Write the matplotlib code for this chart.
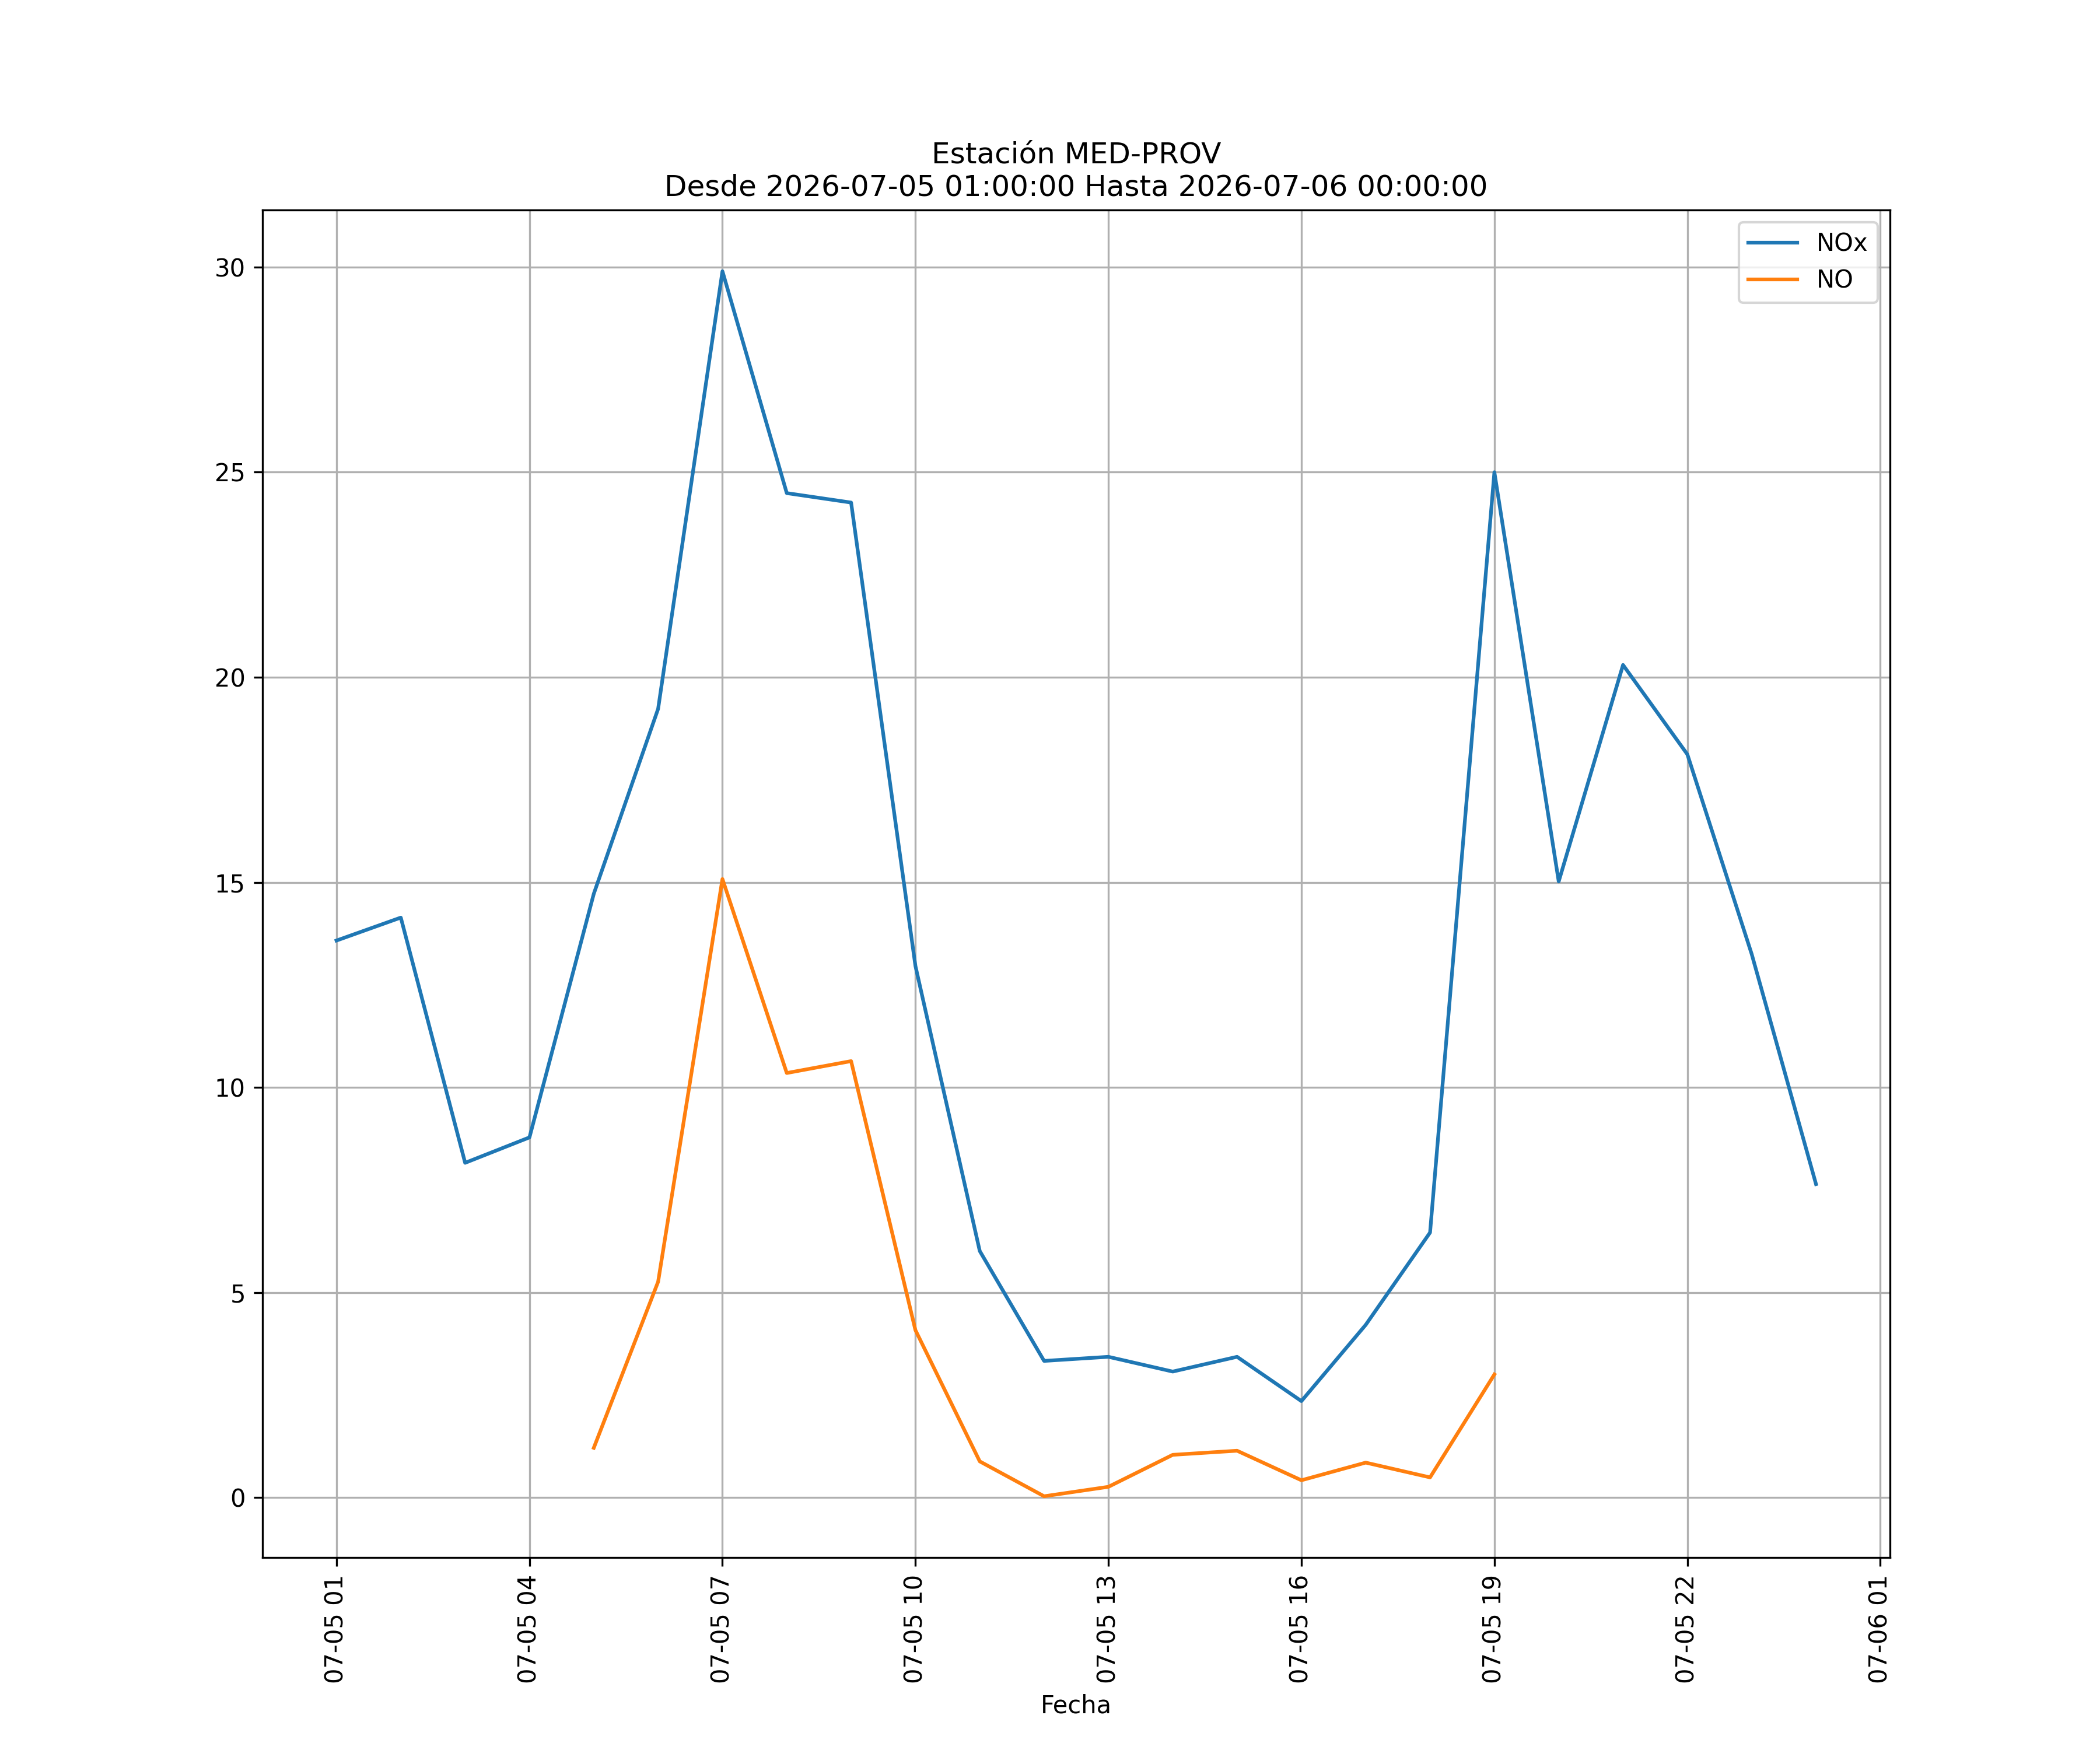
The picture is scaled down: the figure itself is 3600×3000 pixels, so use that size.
import numpy as np
import pandas as pd
import matplotlib
matplotlib.use("Agg")
import matplotlib.pyplot as plt
import matplotlib.dates as mdates

fechas = pd.date_range("2026-07-05 01:00:00", "2026-07-06 00:00:00", freq="h")
nox = [13.58, 14.14, 8.16, 8.78, 14.72, 19.23, 29.9, 24.49, 24.26, 12.96, 6.01, 3.33,
       3.43, 3.07, 3.43, 2.35, 4.21, 6.46, 25.0, 15.02, 20.3, 18.12, 13.25, 7.64]
no = [np.nan, np.nan, np.nan, np.nan, 1.21, 5.26, 15.08, 10.35, 10.64, 4.08, 0.88, 0.03,
      0.26, 1.04, 1.14, 0.42, 0.85, 0.49, 3.0, np.nan, np.nan, np.nan, np.nan, np.nan]

fig, ax = plt.subplots(figsize=(12, 10), dpi=300)
ax.plot(fechas, nox, label="NOx")
ax.plot(fechas, no, label="NO")
ax.set_title("Estación MED-PROV\nDesde 2026-07-05 01:00:00 Hasta 2026-07-06 00:00:00")
ax.set_xlabel("Fecha")
ax.xaxis.set_major_locator(mdates.HourLocator(byhour=range(1, 24, 3)))
ax.xaxis.set_major_formatter(mdates.DateFormatter("%m-%d %H"))
plt.setp(ax.get_xticklabels(), rotation=90)
ax.grid(True)
ax.legend(loc="upper right")
fig.savefig("out.png")
